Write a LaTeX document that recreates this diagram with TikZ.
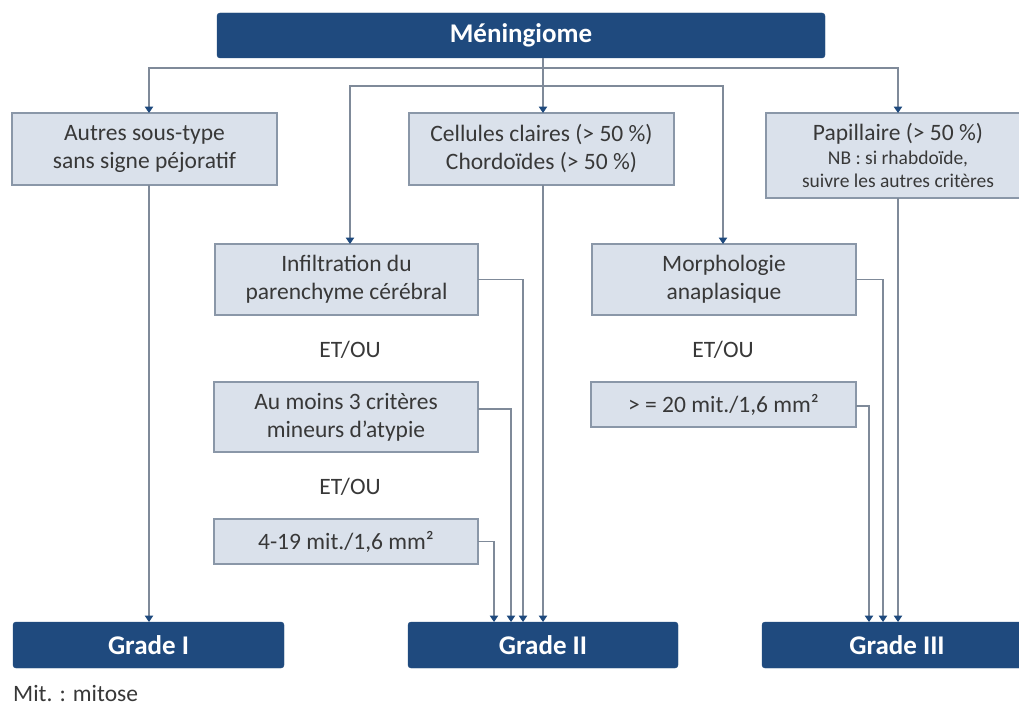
\documentclass[tikz,border=0pt]{standalone}
\usepackage{fontspec}
\setmainfont{Carlito}
\usetikzlibrary{arrows.meta}
\definecolor{navy}{HTML}{1F4A7E}
\definecolor{boxfill}{HTML}{DAE1EB}
\definecolor{boxline}{HTML}{8A97A8}
\definecolor{wire}{HTML}{7F8A99}
\definecolor{ink}{HTML}{383838}
\tikzset{
  head/.style={draw=navy, fill=navy, rounded corners=3pt, text=white,
    font=\fontsize{27}{30}\selectfont\bfseries, inner sep=0pt, outer sep=0pt},
  crit/.style={draw=boxline, line width=1.2pt, fill=boxfill, text=ink, align=center,
    font=\fontsize{23.5}{28}\selectfont, inner sep=0pt, outer sep=0pt},
  plain/.style={text=ink, font=\fontsize{23.5}{28}\selectfont, inner sep=0pt},
  arr/.style={draw=wire, line width=1.1pt,
    -{Triangle[width=8.5pt,length=6.5pt,color=navy]}},
}
\begin{document}
\begin{tikzpicture}[x=1pt,y=-1pt]
\useasboundingbox (0,0) rectangle (1019,709);
\fill[white] (0,0) rectangle (1019,709);

% top node
\node[head, minimum width=608pt, minimum height=45pt] (men) at (521,35.5) {Méningiome};

% first row
\node[crit, minimum width=265pt, minimum height=72pt] (autres) at (144.5,149)
  {Autres sous-type\\sans signe péjoratif};
\node[crit, minimum width=265pt, minimum height=72pt] (cel) at (541.5,149)
  {Cellules claires (> 50~\%)\\Chordoïdes (> 50~\%)};
\node[crit, minimum width=264pt, minimum height=85pt,
      font=\fontsize{19.5}{23.5}\selectfont] (pap) at (898,155.5)
  {{\fontsize{23.5}{23.5}\selectfont Papillaire (> 50~\%)}\\NB : si rhabdoïde,\\suivre les autres critères};

% grade II criteria
\node[crit, minimum width=263pt, minimum height=71pt] (inf) at (346.5,279.5)
  {Infiltration du\\parenchyme cérébral};
\node[plain] (et1) at (350,350) {ET/OU};
\node[crit, minimum width=264pt, minimum height=70pt] (am) at (346,417)
  {Au moins 3 critères\\mineurs d’atypie};
\node[plain] (et2) at (350,487) {ET/OU};
\node[crit, minimum width=264pt, minimum height=45pt] (mA) at (346,541.5)
  {4-19 mit./1,6 mm²};

% grade III criteria
\node[crit, minimum width=264pt, minimum height=71pt] (morph) at (724,279.5)
  {Morphologie\\anaplasique};
\node[plain] (et3) at (723,350) {ET/OU};
\node[crit, minimum width=265pt, minimum height=45pt] (mB) at (723.5,404.5)
  {> = 20 mit./1,6 mm²};

% grades
\node[head, minimum width=271pt, minimum height=46pt] (g1) at (148.5,645) {Grade I};
\node[head, minimum width=270pt, minimum height=46pt] (g2) at (543,645) {Grade II};
\node[head, minimum width=270pt, minimum height=46pt] (g3) at (897,645) {Grade III};

\node[plain, anchor=west] (mit) at (13,693) {Mit. : mitose};

% branching from the top node
\coordinate (j1) at (543,68);
\coordinate (j2) at (543,86);
\draw[wire, line width=1.1pt] (men.south -| j1) -- (j2);
\draw[arr] (j2) -- (j2 |- cel.north);
\draw[arr] (j1) -| ([xshift=4.5pt]autres.north);
\draw[arr] (j1) -| (pap.north);
\draw[arr] (j2) -| ([xshift=3.5pt]inf.north);
\draw[arr] (j2) -| ([xshift=-1pt]morph.north);

% to grade I
\draw[arr] ([xshift=4.5pt]autres.south) -- ([xshift=0.5pt]g1.north);

% to grade II
\draw[arr] ([xshift=1.5pt]cel.south) -- (g2.north);
\draw[arr] (inf.east) -| ([xshift=-20pt]g2.north);
\draw[arr] ([yshift=8pt]am.east) -| ([xshift=-32pt]g2.north);
\draw[arr] (mA.east) -| ([xshift=-49pt]g2.north);

% to grade III
\draw[arr] (pap.south) -- ([xshift=1pt]g3.north);
\draw[arr] (morph.east) -| ([xshift=-14pt]g3.north);
\draw[arr] ([yshift=-1.5pt]mB.east) -| ([xshift=-28pt]g3.north);
\end{tikzpicture}
\end{document}
